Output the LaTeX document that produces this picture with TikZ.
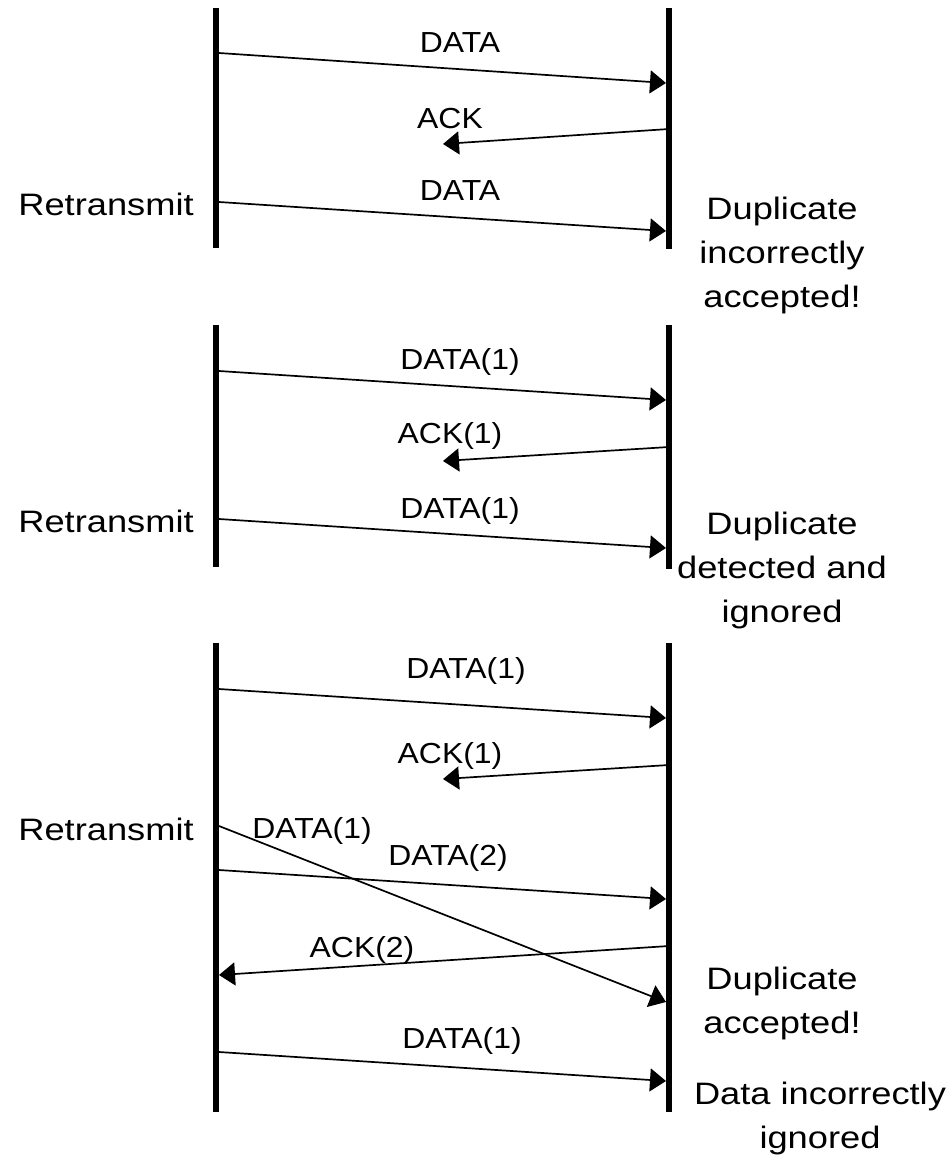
\documentclass[tikz,border=0pt]{standalone}
\usepackage{fontspec}
\setmainfont{Liberation Sans}
\newfontfamily\msgfont{Liberation Sans}[FakeStretch=1.1]
\newfontfamily\sidefont{Liberation Sans}[FakeStretch=1.17]
\usetikzlibrary{arrows.meta}
\begin{document}
\begin{tikzpicture}[x=1pt,y=-1pt,
  lifeline/.style={line width=6pt},
  msg/.style={line width=1.7pt,-{Triangle[length=16pt,width=23pt]}},
  msglabel/.style={anchor=base,inner sep=0pt,font=\msgfont\fontsize{29}{34}\selectfont},
  sidelabel/.style={anchor=base,inner sep=0pt,align=center,font=\sidefont\fontsize{31}{44}\selectfont}]
\useasboundingbox (0,0) rectangle (949,1160);

% ---------- scenario 1: no sequence numbers ----------
\coordinate (L1t) at (216,8);   \coordinate (L1b) at (216,248);
\coordinate (R1t) at (669,8);   \coordinate (R1b) at (669,249);
\draw[lifeline] (L1t) -- (L1b);
\draw[lifeline] (R1t) -- (R1b);

\coordinate (a1s) at (219,53);  \coordinate (a1e) at (666,83);
\coordinate (a2s) at (669,129); \coordinate (a2e) at (443,144);
\coordinate (a3s) at (219,202); \coordinate (a3e) at (666,231);
\draw[msg] (a1s) -- (a1e);
\draw[msg] (a2s) -- (a2e);
\draw[msg] (a3s) -- (a3e);
\node[msglabel] (t1) at (460,52)  {DATA};
\node[msglabel] (t2) at (450,128) {ACK};
\node[msglabel] (t3) at (460,200) {DATA};
\node[sidelabel] (r1) at (106,215) {Retransmit};
% multi-line labels are anchored at the baseline of their last line
\node[sidelabel] (n1) at (782,307) {Duplicate\\incorrectly\\accepted!};

% ---------- scenario 2: one-bit sequence numbers ----------
\coordinate (L2t) at (216,325); \coordinate (L2b) at (216,567);
\coordinate (R2t) at (669,325); \coordinate (R2b) at (669,569);
\draw[lifeline] (L2t) -- (L2b);
\draw[lifeline] (R2t) -- (R2b);

\coordinate (b1s) at (219,371); \coordinate (b1e) at (666,400);
\coordinate (b2s) at (669,447); \coordinate (b2e) at (443,461);
\coordinate (b3s) at (219,519); \coordinate (b3e) at (666,548);
\draw[msg] (b1s) -- (b1e);
\draw[msg] (b2s) -- (b2e);
\draw[msg] (b3s) -- (b3e);
\node[msglabel] (u1) at (460,369) {DATA(1)};
\node[msglabel] (u2) at (450,443) {ACK(1)};
\node[msglabel] (u3) at (460,518) {DATA(1)};
\node[sidelabel] (r2) at (106,532) {Retransmit};
\node[sidelabel] (n2) at (782,622) {Duplicate\\detected and\\ignored};

% ---------- scenario 3: delayed duplicate ----------
\coordinate (L3t) at (216,643); \coordinate (L3b) at (216,1112);
\coordinate (R3t) at (669,643); \coordinate (R3b) at (669,1112);
\draw[lifeline] (L3t) -- (L3b);
\draw[lifeline] (R3t) -- (R3b);

\coordinate (c1s) at (219,689);  \coordinate (c1e) at (666,718);
\coordinate (c2s) at (669,765);  \coordinate (c2e) at (443,779);
\coordinate (c3s) at (219,826);  \coordinate (c3e) at (666,1002);
\coordinate (c4s) at (219,870);  \coordinate (c4e) at (666,899);
\coordinate (c5s) at (669,946);  \coordinate (c5e) at (219,975);
\coordinate (c6s) at (219,1052); \coordinate (c6e) at (666,1081);
\draw[msg] (c1s) -- (c1e);
\draw[msg] (c2s) -- (c2e);
\draw[msg] (c3s) -- (c3e);
\draw[msg] (c4s) -- (c4e);
\draw[msg] (c5s) -- (c5e);
\draw[msg] (c6s) -- (c6e);
\node[msglabel] (v1) at (466,678)  {DATA(1)};
\node[msglabel] (v2) at (450,763)  {ACK(1)};
\node[msglabel] (v3) at (312,838)  {DATA(1)};
\node[msglabel] (v4) at (448,865)  {DATA(2)};
\node[msglabel] (v5) at (362,957)  {ACK(2)};
\node[msglabel] (v6) at (462,1048) {DATA(1)};
\node[sidelabel] (r3) at (106,840)  {Retransmit};
\node[sidelabel] (n3) at (782,1033) {Duplicate\\accepted!};
\node[sidelabel] (n4) at (820,1148) {Data incorrectly\\ignored};
\end{tikzpicture}
\end{document}
